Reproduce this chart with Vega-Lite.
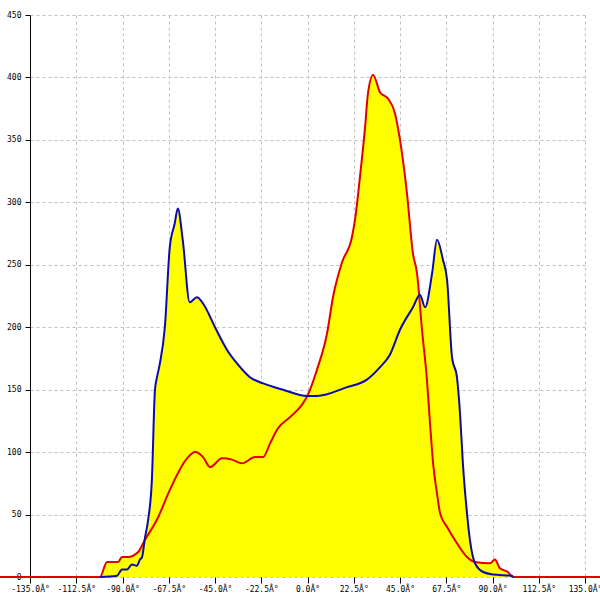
{
  "$schema": "https://vega.github.io/schema/vega-lite/v6.json",
  "width": 555,
  "height": 562,
  "autosize": {"type": "none"},
  "padding": {"left": 30, "top": 15, "right": 15, "bottom": 23},
  "background": "white",
  "config": {
    "view": {"stroke": null},
    "axis": {"labelFont": "DejaVu Sans Mono", "labelFontSize": 8, "labelColor": "black", "tickColor": "black", "domainColor": "black", "gridColor": "#c0c0c0", "gridDash": [3, 3], "gridWidth": 1}
  },
  "datasets": {
    "blue": [
      {"angle": -101.0, "count": 0}, {"angle": -92.7, "count": 1}, {"angle": -90.2, "count": 6}, {"angle": -87.8, "count": 6},
      {"angle": -85.4, "count": 10}, {"angle": -83.0, "count": 9}, {"angle": -81.5, "count": 14}, {"angle": -80.5, "count": 16},
      {"angle": -79.0, "count": 32}, {"angle": -77.6, "count": 45}, {"angle": -75.7, "count": 78}, {"angle": -74.2, "count": 150},
      {"angle": -73.2, "count": 160}, {"angle": -71.8, "count": 171}, {"angle": -69.4, "count": 200}, {"angle": -67.0, "count": 264},
      {"angle": -64.6, "count": 283}, {"angle": -63.1, "count": 295}, {"angle": -60.7, "count": 270}, {"angle": -57.3, "count": 220},
      {"angle": -53.8, "count": 224}, {"angle": -50.8, "count": 219}, {"angle": -45.0, "count": 200}, {"angle": -39.2, "count": 182},
      {"angle": -34.3, "count": 171}, {"angle": -28.0, "count": 160}, {"angle": -21.6, "count": 155}, {"angle": -11.9, "count": 150},
      {"angle": -0.2, "count": 145}, {"angle": 4.6, "count": 145}, {"angle": 19.2, "count": 152}, {"angle": 28.9, "count": 158},
      {"angle": 35.3, "count": 168}, {"angle": 40.1, "count": 178}, {"angle": 45.0, "count": 198}, {"angle": 51.3, "count": 216},
      {"angle": 54.7, "count": 226}, {"angle": 57.2, "count": 216}, {"angle": 60.6, "count": 243}, {"angle": 63.0, "count": 270},
      {"angle": 65.9, "count": 254}, {"angle": 67.9, "count": 238}, {"angle": 70.3, "count": 176}, {"angle": 72.7, "count": 160},
      {"angle": 74.2, "count": 131}, {"angle": 75.6, "count": 91}, {"angle": 77.6, "count": 51}, {"angle": 79.0, "count": 30},
      {"angle": 81.5, "count": 11}, {"angle": 85.4, "count": 4}, {"angle": 90.2, "count": 2}, {"angle": 99.5, "count": 1},
      {"angle": 100.0, "count": 0}
    ],
    "red": [
      {"angle": -150.0, "count": 0}, {"angle": -101.0, "count": 0}, {"angle": -97.5, "count": 12}, {"angle": -92.2, "count": 12},
      {"angle": -90.2, "count": 16}, {"angle": -87.3, "count": 16}, {"angle": -82.4, "count": 20}, {"angle": -79.0, "count": 30},
      {"angle": -73.2, "count": 46}, {"angle": -66.9, "count": 70}, {"angle": -58.6, "count": 95}, {"angle": -54.7, "count": 100},
      {"angle": -50.8, "count": 96}, {"angle": -47.4, "count": 88}, {"angle": -41.6, "count": 95}, {"angle": -36.7, "count": 94},
      {"angle": -31.9, "count": 91}, {"angle": -25.5, "count": 96}, {"angle": -21.6, "count": 96}, {"angle": -18.2, "count": 107},
      {"angle": -14.4, "count": 119}, {"angle": -8.5, "count": 128}, {"angle": -2.2, "count": 139}, {"angle": 0.2, "count": 146},
      {"angle": 4.6, "count": 166}, {"angle": 9.5, "count": 195}, {"angle": 12.4, "count": 224}, {"angle": 16.8, "count": 252},
      {"angle": 21.6, "count": 272}, {"angle": 23.1, "count": 286}, {"angle": 25.5, "count": 320}, {"angle": 28.0, "count": 360},
      {"angle": 29.4, "count": 387}, {"angle": 31.9, "count": 402}, {"angle": 35.3, "count": 388}, {"angle": 39.2, "count": 383},
      {"angle": 42.6, "count": 371}, {"angle": 45.0, "count": 350}, {"angle": 48.4, "count": 307}, {"angle": 51.3, "count": 259},
      {"angle": 53.3, "count": 243}, {"angle": 55.7, "count": 198}, {"angle": 58.1, "count": 158}, {"angle": 59.6, "count": 123},
      {"angle": 61.1, "count": 91}, {"angle": 63.0, "count": 67}, {"angle": 64.5, "count": 51}, {"angle": 67.9, "count": 40},
      {"angle": 72.7, "count": 27}, {"angle": 77.6, "count": 16}, {"angle": 81.5, "count": 12}, {"angle": 88.8, "count": 11},
      {"angle": 91.2, "count": 14}, {"angle": 93.6, "count": 7}, {"angle": 97.5, "count": 4}, {"angle": 100.0, "count": 0},
      {"angle": 150.0, "count": 0}
    ]
  },
  "encoding": {
    "x": {
      "field": "angle", "type": "quantitative",
      "scale": {"domain": [-135, 135], "nice": false, "zero": false},
      "axis": {
        "title": null,
        "values": [-135, -112.5, -90, -67.5, -45, -22.5, 0, 22.5, 45, 67.5, 90, 112.5, 135],
        "labelExpr": "(datum.value < 0 ? '-' : '') + format(abs(datum.value), '.1f') + 'Â°'",
        "domain": false, "tickSize": 6, "labelPadding": 2, "labelFlush": false, "labelOverlap": false,
        "grid": true
      }
    },
    "y": {
      "field": "count", "type": "quantitative",
      "scale": {"domain": [0, 450], "nice": false},
      "axis": {
        "title": null,
        "values": [0, 50, 100, 150, 200, 250, 300, 350, 400, 450],
        "format": "d",
        "domain": true, "tickSize": 5, "labelPadding": 4, "labelFlush": false, "labelOverlap": false,
        "grid": true
      }
    }
  },
  "layer": [
    {"data": {"name": "blue"}, "mark": {"type": "area", "color": "#ffff00", "opacity": 1, "interpolate": "monotone"}},
    {"data": {"name": "red"}, "mark": {"type": "area", "color": "#ffff00", "opacity": 1, "interpolate": "monotone"}},
    {"data": {"name": "red"}, "mark": {"type": "line", "color": "#e00000", "strokeWidth": 2, "interpolate": "monotone"}},
    {"data": {"name": "blue"}, "mark": {"type": "line", "color": "#0a0ab0", "strokeWidth": 2, "interpolate": "monotone"}},
    {"mark": {"type": "rule", "color": "black", "strokeWidth": 1}, "encoding": {"x": {"datum": 135}, "y": null}}
  ]
}
